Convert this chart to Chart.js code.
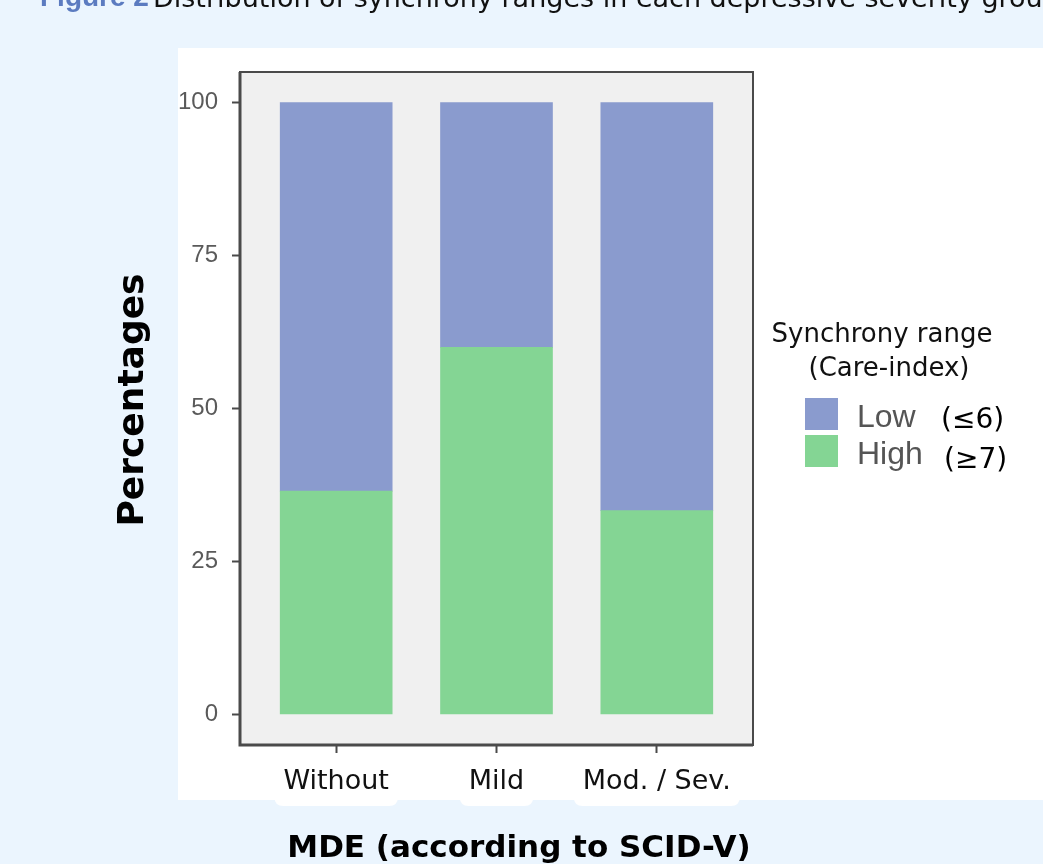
<!DOCTYPE html>
<html>
<head>
<meta charset="utf-8">
<script src="https://cdn.jsdelivr.net/npm/chart.js@4.4.1/dist/chart.umd.min.js"></script>
<style>
    html, body { margin: 0; padding: 0; background: #EBF5FE; }
    #wrap { position: relative; width: 1043px; height: 864px; overflow: hidden; }
    canvas { position: absolute; left: 0; top: 0; }
</style>
</head>
<body>
<div id="wrap"><canvas id="chart" width="1043" height="864"></canvas></div>
<script>
// Datos
const categories = ['Without', 'Mild', 'Mod. / Sev.'];
const categoryPos = [0, 1, 2];
const highPct = [36.5, 60.0, 33.3];
const lowPct = [63.5, 40.0, 66.7];
const yTicks = [0, 25, 50, 75, 100];
const seriesLabels = ['High', 'Low'];
const seriesSuffix = ['(≥7)', '(≤6)'];
const legendTitle = ['Synchrony range', '(Care-index)'];
const figureTag = 'Figure 2';
const figureTitle = 'Distribution of synchrony ranges in each depressive severity group';
const xTitle = 'MDE (according to SCID-V)';
const yTitle = 'Percentages';

const BLUE = '#8A9BCE';
const GREEN = '#84D594';
const X_FONT = { family: 'DejaVu Sans', size: 27 };

function roundRect(ctx, x, y, w, h, r) {
    ctx.beginPath();
    ctx.moveTo(x + r, y);
    ctx.lineTo(x + w - r, y);
    ctx.quadraticCurveTo(x + w, y, x + w, y + r);
    ctx.lineTo(x + w, y + h - r);
    ctx.quadraticCurveTo(x + w, y + h, x + w - r, y + h);
    ctx.lineTo(x + r, y + h);
    ctx.quadraticCurveTo(x, y + h, x, y + h - r);
    ctx.lineTo(x, y + r);
    ctx.quadraticCurveTo(x, y, x + r, y);
    ctx.closePath();
}

const decorPlugin = {
    id: 'decor',
    beforeDraw(chart) {
        const ctx = chart.ctx;
        const a = chart.chartArea;
        const xs = chart.scales.x;
        ctx.save();
        ctx.fillStyle = '#EBF5FE';
        ctx.fillRect(0, 0, chart.width, chart.height);
        // panel blanco
        ctx.fillStyle = '#FFFFFF';
        ctx.fillRect(178, 48, chart.width - 178, 752);
        // fondos de las etiquetas del eje x
        ctx.font = X_FONT.size + 'px "' + X_FONT.family + '"';
        categories.forEach((c, i) => {
            const cx = xs.getPixelForValue(categoryPos[i]);
            const w = ctx.measureText(c).width + 18;
            roundRect(ctx, cx - w / 2, 766, w, 40, 9);
            ctx.fill();
        });
        // fondo del área de trazado
        ctx.fillStyle = '#F0F0F0';
        ctx.fillRect(a.left, a.top, a.right - a.left, a.bottom - a.top);
        ctx.restore();
    },
    afterDraw(chart) {
        const ctx = chart.ctx;
        const a = chart.chartArea;
        ctx.save();
        // marco
        ctx.strokeStyle = '#4A4A4A';
        ctx.lineWidth = 2;
        ctx.strokeRect(a.left, a.top, a.right - a.left, a.bottom - a.top);
        ctx.lineWidth = 3;
        ctx.beginPath();
        ctx.moveTo(a.left, a.top);
        ctx.lineTo(a.left, a.bottom);
        ctx.lineTo(a.right, a.bottom);
        ctx.stroke();

        // título de la figura (cortado arriba)
        ctx.textBaseline = 'alphabetic';
        ctx.textAlign = 'left';
        ctx.fillStyle = '#5B7BC0';
        ctx.font = 'bold 28px "Liberation Sans"';
        ctx.fillText(figureTag, 40, 6);
        ctx.fillStyle = '#111111';
        ctx.font = '27px "DejaVu Sans"';
        ctx.fillText(figureTitle, 153, 7);

        // títulos de ejes
        ctx.fillStyle = '#000000';
        ctx.font = 'bold 31px "DejaVu Sans"';
        ctx.textAlign = 'center';
        ctx.fillText(xTitle, 519, 857);
        ctx.save();
        ctx.translate(143, 400);
        ctx.rotate(-Math.PI / 2);
        ctx.font = 'bold 36px "DejaVu Sans"';
        ctx.fillText(yTitle, 0, 0);
        ctx.restore();

        // leyenda
        ctx.fillStyle = '#111111';
        ctx.font = '26px "DejaVu Sans"';
        ctx.fillText(legendTitle[0], 882, 342);
        ctx.fillText(legendTitle[1], 889, 376);
        const ds = chart.data.datasets;
        const order = [1, 0];
        order.forEach((k, j) => {
            const top = 398 + j * 37;
            ctx.fillStyle = ds[k].backgroundColor;
            ctx.fillRect(805, top, 33, 32);
            ctx.textAlign = 'left';
            ctx.fillStyle = '#555555';
            ctx.font = '32px "Liberation Sans"';
            ctx.fillText(ds[k].label, 857, top + 29);
            ctx.fillStyle = '#000000';
            ctx.font = '28px "DejaVu Sans"';
            ctx.fillText(seriesSuffix[k], 941 + j * 3, top + 30 + j * 3);
        });
        ctx.restore();
    }
};

const chart = new Chart(document.getElementById('chart'), {
    type: 'bar',
    data: {
        labels: categoryPos,
        datasets: [
            { label: seriesLabels[0], data: highPct, backgroundColor: GREEN },
            { label: seriesLabels[1], data: lowPct, backgroundColor: BLUE }
        ]
    },
    options: {
        responsive: false,
        animation: false,
        layout: { padding: { left: 0, top: 72, right: 290, bottom: 0 } },
        datasets: { bar: { barThickness: 112, borderWidth: 0 } },
        plugins: {
            legend: { display: false },
            tooltip: { enabled: false }
        },
        scales: {
            x: {
                type: 'linear',
                stacked: true,
                min: -0.6,
                max: 2.6,
                offset: false,
                afterFit(scale) { scale.height = 119; },
                afterBuildTicks(scale) { scale.ticks = categoryPos.map(v => ({ value: v })); },
                border: { display: false },
                grid: { offset: false, drawOnChartArea: false, drawTicks: true, tickLength: 8, tickColor: '#4A4A4A', tickWidth: 2 },
                ticks: {
                    color: '#111111',
                    font: X_FONT,
                    padding: 13,
                    maxRotation: 0,
                    callback: (v) => categories[categoryPos.indexOf(v)]
                }
            },
            y: {
                stacked: true,
                min: -5,
                max: 105,
                afterFit(scale) { scale.width = 240; },
                afterBuildTicks(scale) { scale.ticks = yTicks.map(v => ({ value: v })); },
                border: { display: false },
                grid: { drawOnChartArea: false, drawTicks: true, tickLength: 8, tickColor: '#4A4A4A', tickWidth: 2 },
                ticks: {
                    color: '#5A5A5A',
                    font: { family: 'Liberation Sans', size: 24 },
                    padding: 14
                }
            }
        }
    },
    plugins: [decorPlugin]
});
</script>
</body>
</html>
